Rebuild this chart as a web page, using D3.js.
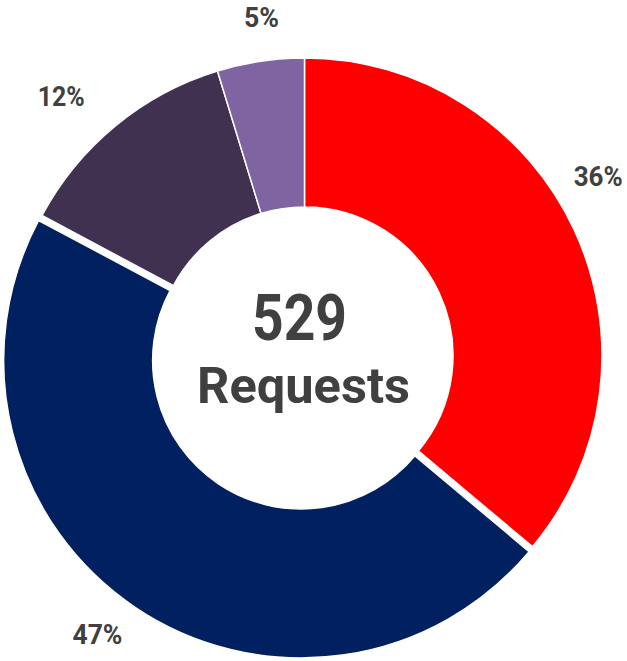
<!DOCTYPE html>
<html>
<head>
<meta charset="utf-8">
<script src="https://cdn.jsdelivr.net/npm/d3@7"></script>
<style>
  html, body { margin: 0; padding: 0; background: #ffffff; }
  svg { display: block; }
</style>
</head>
<body>
<svg id="chart" width="627" height="661"></svg>
<script>
// ---- data ----
const categories = ["A", "B", "C", "D"];
const requestCounts = [191, 247, 66, 25];
const percentLabels = ["36%", "47%", "12%", "5%"];
const sliceColors = ["#FF0000", "#002060", "#403151", "#8064A2"];
const totalLabel = "529";
const unitLabel = "Requests";

// ---- layout ----
const W = 627, H = 661;
const cx = 304.5, cy = 355.5;
const outerR = 297.5, innerR = 148.5;
const explodeIdx = 1, explodeDist = 6;
const labelR = 345;
// manual nudges for labels (dx, dy) relative to centroid at labelR
const labelNudge = [[-19, -34], [-14, -8], [-24, 7], [8, 3]];
const labelWidths = [49, 50, 47, 35];
const textColor = "#404040";
const fontFam = "Roboto, 'Liberation Sans', sans-serif";

const svg = d3.select("#chart");
const g = svg.append("g").attr("transform", `translate(${cx},${cy})`);

const data = categories.map((c, i) => ({ cat: c, value: requestCounts[i], label: percentLabels[i], color: sliceColors[i], i }));

const pie = d3.pie().value(d => d.value).sort(null);
const arcs = pie(data);
const arc = d3.arc().innerRadius(innerR).outerRadius(outerR);
const labelArc = d3.arc().innerRadius(labelR).outerRadius(labelR);

g.selectAll("path.slice")
  .data(arcs)
  .join("path")
  .attr("class", "slice")
  .attr("d", arc)
  .attr("fill", d => d.data.color)
  .attr("stroke", "#ffffff")
  .attr("stroke-width", 1.5)
  .attr("transform", d => {
    if (d.data.i !== explodeIdx) return null;
    const a = (d.startAngle + d.endAngle) / 2;
    return `translate(${explodeDist * Math.sin(a)},${-explodeDist * Math.cos(a)})`;
  });

g.selectAll("text.pct")
  .data(arcs)
  .join("text")
  .attr("class", "pct")
  .attr("x", d => labelArc.centroid(d)[0] + labelNudge[d.data.i][0])
  .attr("y", d => labelArc.centroid(d)[1] + labelNudge[d.data.i][1])
  .attr("dy", "0.36em")
  .attr("text-anchor", "middle")
  .attr("font-family", fontFam)
  .attr("font-weight", 700)
  .attr("font-size", 28)
  .attr("fill", textColor)
  .attr("textLength", d => labelWidths[d.data.i])
  .attr("lengthAdjust", "spacingAndGlyphs")
  .text(d => d.data.label);

g.append("text")
  .attr("x", -5)
  .attr("y", -15.5)
  .attr("text-anchor", "middle")
  .attr("font-family", fontFam)
  .attr("font-weight", 700)
  .attr("font-size", 64)
  .attr("fill", textColor)
  .attr("textLength", 95)
  .attr("lengthAdjust", "spacingAndGlyphs")
  .text(totalLabel);

g.append("text")
  .attr("x", -1)
  .attr("y", 47.5)
  .attr("text-anchor", "middle")
  .attr("font-family", fontFam)
  .attr("font-weight", 700)
  .attr("font-size", 50)
  .attr("fill", textColor)
  .attr("textLength", 213)
  .attr("lengthAdjust", "spacingAndGlyphs")
  .text(unitLabel);
</script>
</body>
</html>
